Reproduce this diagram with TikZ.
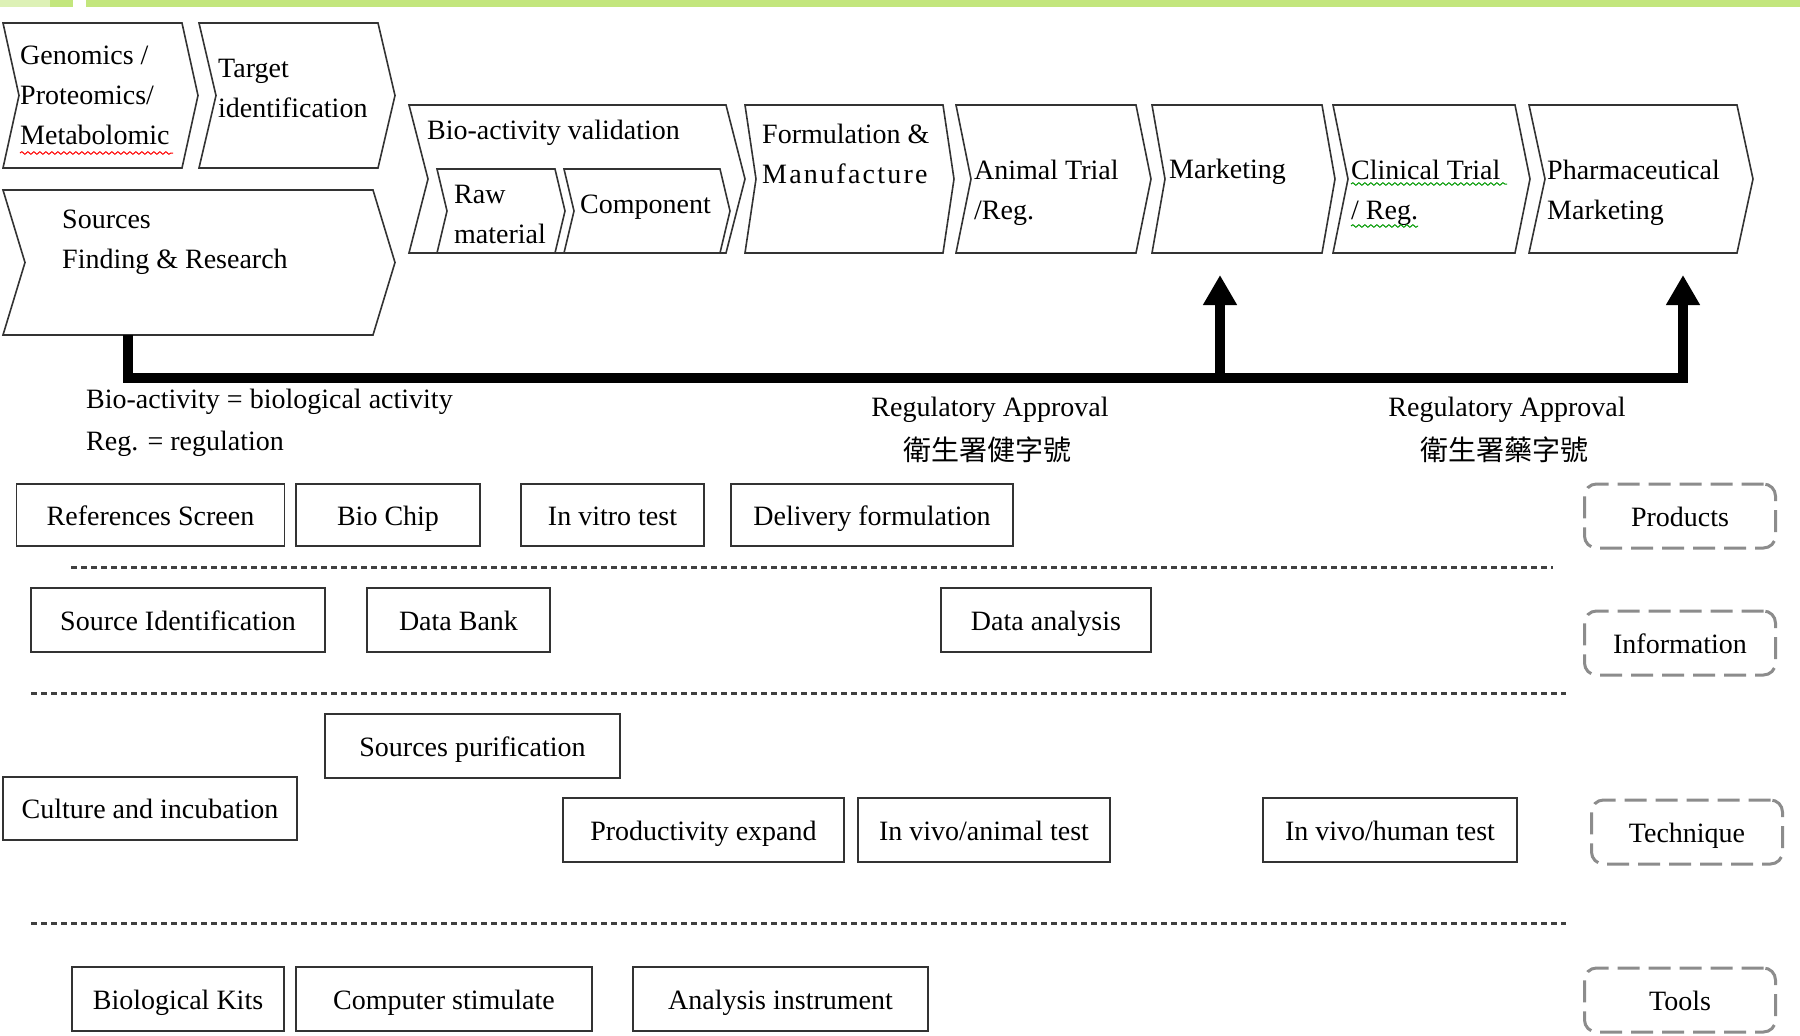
\documentclass[tikz,border=0pt]{standalone}
\usepackage{fontspec}
\setmainfont{Liberation Serif}
\newfontfamily\cjk{Noto Sans CJK TC}
\usetikzlibrary{arrows.meta,decorations.pathmorphing}
\definecolor{barlight}{HTML}{DDF1B6}
\definecolor{bargreen}{HTML}{C3E67D}
\definecolor{edge}{HTML}{333333}
\definecolor{catgray}{HTML}{8C8C8C}
\tikzset{
  chevline/.style={draw=edge, line width=1.6pt, line join=miter},
  txt/.style={anchor=west, inner sep=0pt, align=left},
  box/.style={draw=edge, line width=1.5pt, inner sep=0pt, text height=25pt, text depth=5pt},
  catbox/.style={draw=catgray, line width=3pt, rounded corners=12pt, dash pattern=on 22pt off 9pt, inner sep=0pt, minimum width=191pt, minimum height=64pt, text height=25pt, text depth=5pt},
  sepline/.style={draw=black!75, line width=3pt, dash pattern=on 6pt off 4pt},
  bigconn/.style={line width=10pt, line join=miter},
  tipconn/.style={-{Triangle[length=30pt,width=32pt]}},
  squig/.style={decorate, decoration={snake, amplitude=1.3pt, segment length=6pt}, line width=1pt}
}
% chevron: left x, right x, top y, bottom y, depth
\newcommand{\mychev}[5]{%
  \path[chevline] (#1,#3) -- (#2,#3) -- ({#2+#5},{(#3+#4)/2}) -- (#2,#4) -- (#1,#4) -- ({#1+#5},{(#3+#4)/2}) -- cycle;}
\begin{document}
\begin{tikzpicture}[x=1pt,y=-1pt,font=\fontsize{28}{42}\selectfont]
\useasboundingbox (0,0) rectangle (1800,1036);
\fill[white] (0,0) rectangle (1800,1036);
% top bar
\fill[barlight] (0,0) rectangle (50,7);
\fill[bargreen] (50,0) rectangle (73,7);
\fill[bargreen] (86,0) rectangle (1800,7);

% chevrons row 1
\mychev{3}{182}{23}{168}{16}
\mychev{199}{378}{23}{168}{17}
\mychev{3}{373}{190}{335}{22}
% chevrons row 2
\mychev{409}{726}{105}{253}{19}
\mychev{437}{555}{169}{253}{10}
\mychev{564}{720}{169}{253}{10}
\mychev{745}{943}{105}{253}{11}
\mychev{956}{1136}{105}{253}{15}
\mychev{1152}{1322}{105}{253}{13}
\mychev{1333}{1515}{105}{253}{15}
\mychev{1529}{1737}{105}{253}{16}

% chevron texts
\node[txt] (genomics) at (20,95) {Genomics /\\[-2pt]Proteomics/\\[-2pt]Metabolomic};
\node[txt] (target) at (218,88) {Target\\[-2pt]identification};
\node[txt] (sources) at (62,242) {Sources\\[-2pt]Finding \& Research};
\node[txt] (bioval) at (427,133) {Bio-activity validation};
\node[txt] (raw) at (454,214) {Raw\\[-2pt]material};
\node[txt] (component) at (580,207) {Component};
\node[txt] (formul) at (762,154) {Formulation \&\\[-2pt]{\addfontfeatures{LetterSpace=8}Manufacture}};
\node[txt] (animal) at (974,193) {Animal Trial\\[-2pt]/Reg.};
\node[txt] (marketing) at (1169,172) {Marketing};
\node[txt] (clinical) at (1351,193) {Clinical Trial\\[-2pt]/ Reg.};
\node[txt] (pharma) at (1547,193) {Pharmaceutical\\[-2pt]Marketing};

% spell-check squiggles
\draw[red, squig] (20,153) -- (173,153);
\draw[green!60!black, squig] (1351,184) -- (1507,184);
\draw[green!60!black, squig] (1351,226) -- (1418,226);

% approval connector
\coordinate (srcb) at (128,335);
\coordinate (bend) at (1683,378);
\coordinate (mktTip) at (1220,275);
\coordinate (phTip) at (1683,275);
\draw[bigconn, tipconn] (srcb) |- (bend) -- (phTip);
\draw[bigconn, tipconn] (mktTip |- bend) -- (mktTip);

% notes
\node[txt] (note1) at (86,402) {Bio-activity = biological activity};
\node[txt] (note2) at (86,444) {Reg. = regulation};
\node[inner sep=0pt] (reg1) at (990,410) {Regulatory Approval};
\node[inner sep=0pt] (reg1c) at (987,450) {\cjk 衛生署健字號};
\node[inner sep=0pt] (reg2) at (1507,410) {Regulatory Approval};
\node[inner sep=0pt] (reg2c) at (1504,450) {\cjk 衛生署藥字號};

% row A
\node[box, minimum width=268pt, minimum height=62pt] (refscreen) at (150.5,515) {References Screen};
\node[box, minimum width=184pt, minimum height=62pt] (biochip) at (388,515) {Bio Chip};
\node[box, minimum width=183pt, minimum height=62pt] (invitro) at (612.5,515) {In vitro test};
\node[box, minimum width=282pt, minimum height=62pt] (delivery) at (872,515) {Delivery formulation};
\node[catbox] (products) at (1680,516) {Products};
\draw[sepline] (71,567) -- (1553,567);

% row B
\node[box, minimum width=294pt, minimum height=64pt] (sourceid) at (178,620) {Source Identification};
\node[box, minimum width=183pt, minimum height=64pt] (databank) at (458.5,620) {Data Bank};
\node[box, minimum width=210pt, minimum height=64pt] (dataanalysis) at (1046,620) {Data analysis};
\node[catbox] (information) at (1680,643) {Information};
\draw[sepline] (31,693) -- (1566,693);

% row C
\node[box, minimum width=295pt, minimum height=64pt] (sourcespur) at (472.5,746) {Sources purification};
\node[box, minimum width=294pt, minimum height=63pt] (culture) at (150,808.5) {Culture and incubation};
\node[box, minimum width=281pt, minimum height=64pt] (productivity) at (703.5,830) {Productivity expand};
\node[box, minimum width=252pt, minimum height=64pt] (invivoanimal) at (984,830) {In vivo/animal test};
\node[box, minimum width=254pt, minimum height=64pt] (invivohuman) at (1390,830) {In vivo/human test};
\node[catbox] (technique) at (1687,832) {Technique};
\draw[sepline] (31,923) -- (1566,923);

% row D
\node[box, minimum width=212pt, minimum height=64pt] (biokits) at (178,999) {Biological Kits};
\node[box, minimum width=296pt, minimum height=64pt] (computer) at (444,999) {Computer stimulate};
\node[box, minimum width=295pt, minimum height=64pt] (analysis) at (780.5,999) {Analysis instrument};
\node[catbox] (tools) at (1680,1000) {Tools};
\end{tikzpicture}
\end{document}
